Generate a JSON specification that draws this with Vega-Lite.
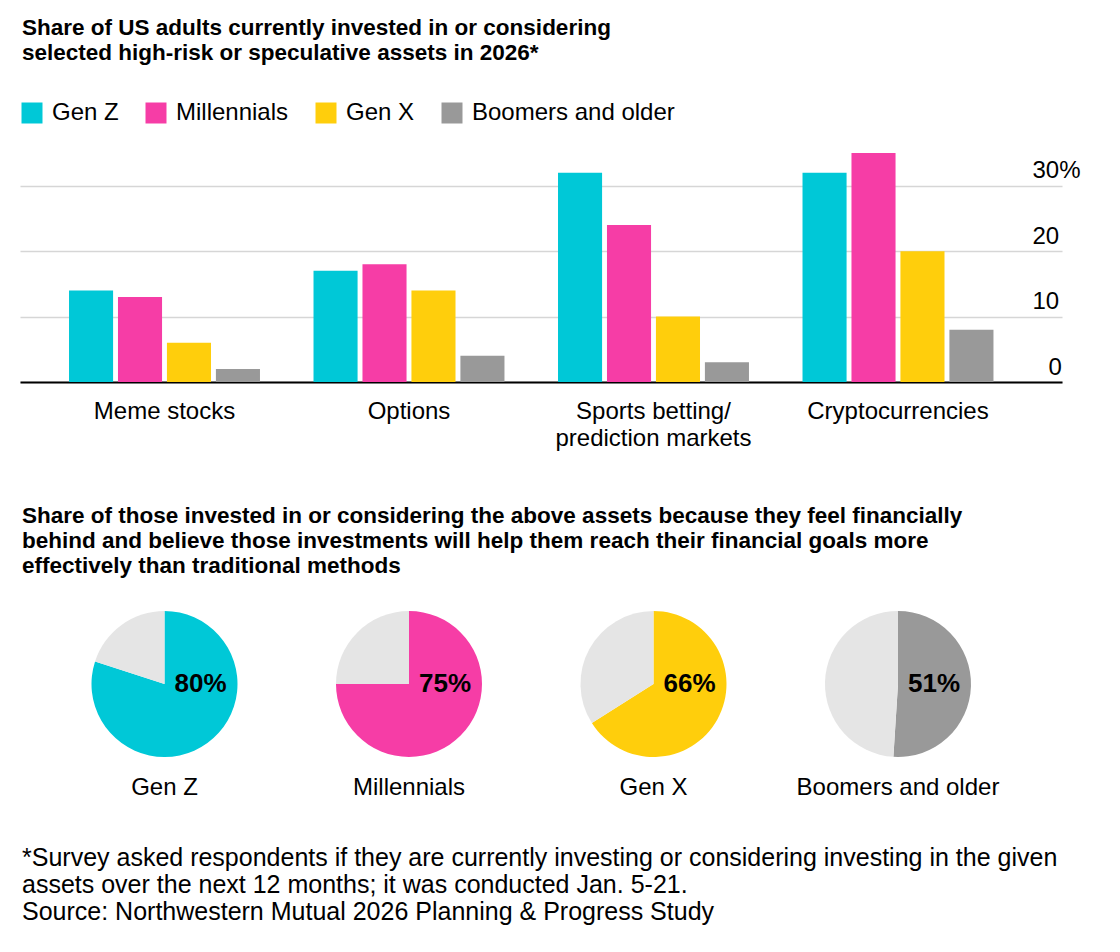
{
  "$schema": "https://vega.github.io/schema/vega-lite/v6.json",
  "padding": {"left": 20, "top": 16, "right": 0, "bottom": 0},
  "background": "#ffffff",
  "config": {
    "view": {"stroke": null},
    "font": "Liberation Sans",
    "axis": {"labelFont": "Liberation Sans", "labelColor": "#000000"},
    "legend": {"labelFont": "Liberation Sans", "labelColor": "#000000"},
    "title": {"font": "Liberation Sans", "color": "#000000"}
  },
  "title": {
    "text": [
      "*Survey asked respondents if they are currently investing or considering investing in the given",
      "assets over the next 12 months; it was conducted Jan. 5-21.",
      "Source: Northwestern Mutual 2026 Planning & Progress Study"
    ],
    "orient": "bottom",
    "anchor": "start",
    "fontSize": 25,
    "fontWeight": "normal",
    "lineHeight": 27,
    "offset": 47,
    "dx": 2
  },
  "resolve": {"scale": {"color": "independent", "x": "independent"}, "legend": {"color": "independent"}},
  "spacing": 54,
  "vconcat": [
    {
      "width": 1042,
      "height": 229,
      "title": {
        "text": [
          "Share of US adults currently invested in or considering",
          "selected high-risk or speculative assets in 2026*"
        ],
        "anchor": "start",
        "fontSize": 22.5,
        "fontWeight": "bold",
        "lineHeight": 25,
        "offset": 37,
        "dx": 2
      },
      "data": {
        "values": [
          {"asset": "Meme stocks", "generation": "Gen Z", "share": 14},
          {"asset": "Meme stocks", "generation": "Millennials", "share": 13},
          {"asset": "Meme stocks", "generation": "Gen X", "share": 6},
          {"asset": "Meme stocks", "generation": "Boomers and older", "share": 2},
          {"asset": "Options", "generation": "Gen Z", "share": 17},
          {"asset": "Options", "generation": "Millennials", "share": 18},
          {"asset": "Options", "generation": "Gen X", "share": 14},
          {"asset": "Options", "generation": "Boomers and older", "share": 4},
          {"asset": "Sports betting/prediction markets", "generation": "Gen Z", "share": 32},
          {"asset": "Sports betting/prediction markets", "generation": "Millennials", "share": 24},
          {"asset": "Sports betting/prediction markets", "generation": "Gen X", "share": 10},
          {"asset": "Sports betting/prediction markets", "generation": "Boomers and older", "share": 3},
          {"asset": "Cryptocurrencies", "generation": "Gen Z", "share": 32},
          {"asset": "Cryptocurrencies", "generation": "Millennials", "share": 35},
          {"asset": "Cryptocurrencies", "generation": "Gen X", "share": 20},
          {"asset": "Cryptocurrencies", "generation": "Boomers and older", "share": 8}
        ]
      },
      "mark": {"type": "bar"},
      "encoding": {
        "x": {
          "field": "asset",
          "type": "nominal",
          "sort": ["Meme stocks", "Options", "Sports betting/prediction markets", "Cryptocurrencies"],
          "scale": {"paddingInner": 0.219, "paddingOuter": 0.2404, "align": 0.417},
          "title": null,
          "axis": {
            "domain": true,
            "domainColor": "#000000",
            "domainWidth": 2,
            "ticks": false,
            "grid": false,
            "labelAngle": 0,
            "labelFontSize": 24,
            "labelPadding": 17,
            "labelLineHeight": 27,
            "labelLimit": 0,
            "labelExpr": "datum.label == 'Sports betting/prediction markets' ? ['Sports betting/', 'prediction markets'] : datum.label"
          }
        },
        "xOffset": {
          "field": "generation",
          "sort": ["Gen Z", "Millennials", "Gen X", "Boomers and older"],
          "scale": {"paddingInner": 0.1, "paddingOuter": 0}
        },
        "y": {
          "field": "share",
          "type": "quantitative",
          "scale": {"domain": [0, 35], "nice": false},
          "title": null,
          "axis": {
            "orient": "right",
            "values": [0, 10, 20, 30],
            "domain": false,
            "ticks": false,
            "grid": true,
            "gridColor": "#d6d6d6",
            "gridWidth": 1.5,
            "labelFontSize": 24,
            "labelAlign": "left",
            "labelBaseline": "alphabetic",
            "labelPadding": {"condition": {"test": "datum.value === 0", "value": -14}, "value": -30},
            "labelOffset": -8,
            "labelExpr": "datum.value == 30 ? '30%' : datum.label"
          }
        },
        "color": {
          "field": "generation",
          "type": "nominal",
          "sort": ["Gen Z", "Millennials", "Gen X", "Boomers and older"],
          "scale": {
            "domain": ["Gen Z", "Millennials", "Gen X", "Boomers and older"],
            "range": ["#00C8D7", "#F63DA6", "#FFCE0C", "#999999"]
          },
          "legend": {
            "orient": "top",
            "direction": "horizontal",
            "title": null,
            "symbolType": "square",
            "symbolSize": 441,
            "symbolStrokeWidth": 0,
            "labelFontSize": 24,
            "labelOffset": 8,
            "labelLimit": 0,
            "columnPadding": 25,
            "offset": 28
          }
        }
      }
    },
    {
      "width": 1042,
      "height": 150,
      "title": {
        "text": [
          "Share of those invested in or considering the above assets because they feel financially",
          "behind and believe those investments will help them reach their financial goals more",
          "effectively than traditional methods"
        ],
        "anchor": "start",
        "fontSize": 22.5,
        "fontWeight": "bold",
        "lineHeight": 25,
        "offset": 32,
        "dx": 2
      },
      "data": {
        "values": [
          {"generation": "Gen Z", "part": "Gen Z", "value": 80, "order": 1, "label": "80%"},
          {"generation": "Gen Z", "part": "Rest", "value": 20, "order": 2, "label": ""},
          {"generation": "Millennials", "part": "Millennials", "value": 75, "order": 1, "label": "75%"},
          {"generation": "Millennials", "part": "Rest", "value": 25, "order": 2, "label": ""},
          {"generation": "Gen X", "part": "Gen X", "value": 66, "order": 1, "label": "66%"},
          {"generation": "Gen X", "part": "Rest", "value": 34, "order": 2, "label": ""},
          {"generation": "Boomers and older", "part": "Boomers and older", "value": 51, "order": 1, "label": "51%"},
          {"generation": "Boomers and older", "part": "Rest", "value": 49, "order": 2, "label": ""}
        ]
      },
      "transform": [
        {"stack": "value", "groupby": ["generation"], "sort": [{"field": "order", "order": "ascending"}], "as": ["v0", "v1"]}
      ],
      "encoding": {
        "x": {
          "field": "generation",
          "type": "nominal",
          "sort": ["Gen Z", "Millennials", "Gen X", "Boomers and older"],
          "scale": {"type": "band", "paddingInner": 0.219, "paddingOuter": 0.2404, "align": 0.417},
          "title": null,
          "axis": {
            "domain": false,
            "ticks": false,
            "grid": false,
            "labelAngle": 0,
            "labelFontSize": 24,
            "labelPadding": 16,
            "labelLimit": 0
          }
        }
      },
      "layer": [
        {
          "mark": {"type": "arc", "outerRadius": 73},
          "encoding": {
            "theta": {"field": "v0", "type": "quantitative", "scale": {"domain": [0, 100], "range": [0, 6.283185307179586]}},
            "theta2": {"field": "v1"},
            "color": {
              "field": "part",
              "type": "nominal",
              "scale": {
                "domain": ["Gen Z", "Millennials", "Gen X", "Boomers and older", "Rest"],
                "range": ["#00C8D7", "#F63DA6", "#FFCE0C", "#999999", "#E5E5E5"]
              },
              "legend": null
            }
          }
        },
        {
          "transform": [{"filter": "datum.order == 1"}],
          "mark": {"type": "text", "dx": 36, "align": "center", "baseline": "middle", "fontSize": 26, "fontWeight": "bold", "color": "#000000"},
          "encoding": {
            "text": {"field": "label", "type": "nominal"}
          }
        }
      ]
    }
  ]
}
